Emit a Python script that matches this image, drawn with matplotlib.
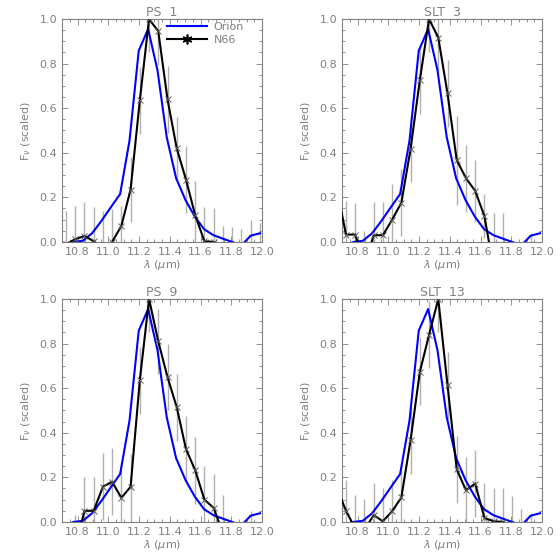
import numpy as np
import matplotlib.pyplot as plt
from matplotlib.lines import Line2D
from matplotlib.ticker import MultipleLocator

# N66 wavelength grid (micron)
wave = [10.665, 10.725, 10.785, 10.845, 10.905, 10.965, 11.025, 11.085,
        11.145, 11.205, 11.265, 11.325, 11.385, 11.445, 11.505, 11.565,
        11.625, 11.685, 11.745, 11.805, 11.865, 11.925, 11.985]

# scaled fluxes and errors per source
ps1 = [-0.10, -0.01, 0.012, 0.027, 0.003, -0.03, 0.0, 0.072, 0.235, 0.635, 1.0,
       0.945, 0.64, 0.42, 0.28, 0.12, 0.003, 0.0, -0.08, -0.085, -0.09, -0.05, -0.065]
ps1_err = [0.15, 0.15, 0.15, 0.15, 0.155, 0.17, 0.147, 0.09, 0.145, 0.15, 0.15,
           0.15, 0.15, 0.14, 0.15, 0.155, 0.152, 0.15, 0.15, 0.15, 0.15, 0.15, 0.15]

slt3 = [0.24, 0.033, 0.033, -0.10, 0.03, 0.03, 0.10, 0.176, 0.417, 0.726, 1.0,
        0.917, 0.666, 0.367, 0.286, 0.229, 0.116, -0.12, -0.03, -0.2, -0.2, -0.12, -0.2]
slt3_err = [0.15, 0.15, 0.14, 0.15, 0.15, 0.15, 0.16, 0.15, 0.15, 0.15, 0.15,
            0.15, 0.15, 0.2, 0.15, 0.14, 0.10, 0.25, 0.16, 0.15, 0.15, 0.16, 0.15]

ps9 = [-0.2, -0.2, -0.12, 0.05, 0.05, 0.158, 0.18, 0.108, 0.158, 0.636, 1.0,
       0.81, 0.65, 0.515, 0.327, 0.232, 0.10, 0.063, -0.05, -0.2, -0.2, -0.1, -0.2]
ps9_err = [0.15, 0.15, 0.15, 0.15, 0.15, 0.15, 0.15, 0.154, 0.146, 0.15, 0.15,
           0.145, 0.15, 0.15, 0.15, 0.15, 0.15, 0.15, 0.173, 0.15, 0.15, 0.15, 0.15]

slt13 = [0.153, 0.05, -0.03, -0.035, 0.03, 0.003, 0.048, 0.11, 0.367, 0.673, 0.839,
         1.0, 0.613, 0.236, 0.142, 0.172, 0.018, 0.003, 0.0, -0.04, -0.09, -0.11, -0.2]
slt13_err = [0.15, 0.14, 0.15, 0.14, 0.146, 0.15, 0.14, 0.146, 0.15, 0.15, 0.15,
             0.15, 0.15, 0.15, 0.15, 0.15, 0.158, 0.15, 0.154, 0.156, 0.146, 0.15, 0.15]

# Orion template
orion_wave = [10.713, 10.774, 10.834, 10.895, 10.956, 11.016, 11.077, 11.138,
              11.198, 11.259, 11.320, 11.380, 11.441, 11.502, 11.562, 11.623,
              11.684, 11.744, 11.805, 11.866, 11.926, 11.987]
orion = [-0.02, 0.0, 0.005, 0.039, 0.095, 0.155, 0.215, 0.455, 0.858, 0.955,
         0.77, 0.47, 0.286, 0.188, 0.114, 0.057, 0.03, 0.015, 0.0, -0.015, 0.028, 0.039]

titles = ["PS  1", "SLT  3", "PS  9", "SLT  13"]
fluxes = [ps1, slt3, ps9, slt13]
errors = [ps1_err, slt3_err, ps9_err, slt13_err]

grey = "#808080"
plt.rcParams['font.family'] = ['DejaVu Sans']

fig = plt.figure(figsize=(5.6, 5.6), dpi=100)
positions = [[0.111, 0.568, 0.357, 0.398], [0.611, 0.568, 0.357, 0.398],
             [0.111, 0.068, 0.357, 0.398], [0.611, 0.068, 0.357, 0.398]]

for i in range(4):
    ax = fig.add_axes(positions[i])
    f = np.array(fluxes[i])
    e = np.array(errors[i])
    ax.vlines(wave, f - e, f + e, color="#b0b0b0", lw=1.0, zorder=1)
    ax.plot(orion_wave, orion, color="#0000ff", lw=1.5, zorder=2)
    ax.plot(wave, f, color="black", lw=1.5, zorder=3)
    ax.plot(wave, f, ls="none", marker="x", ms=5, mew=0.7, color="#606060", zorder=4)

    ax.set_xlim(10.7, 12.0)
    ax.set_ylim(0, 1.0)
    ax.xaxis.set_minor_locator(MultipleLocator(0.05))
    ax.yaxis.set_minor_locator(MultipleLocator(0.05))
    ax.set_xticks([10.8, 11.0, 11.2, 11.4, 11.6, 11.8, 12.0])
    ax.set_xticklabels(["10.8", "11.0", "11.2", "11.4", "11.6", "11.8", "12.0"])
    ax.set_yticks([0, 0.2, 0.4, 0.6, 0.8, 1.0])
    ax.set_yticklabels(["0.0", "0.2", "0.4", "0.6", "0.8", "1.0"])
    ax.tick_params(which="both", direction="in", top=True, right=True,
                   colors=grey, labelsize=8, width=0.6)
    ax.tick_params(which="major", length=4)
    ax.tick_params(which="minor", length=2)
    for s in ax.spines.values():
        s.set_color(grey)
        s.set_linewidth(0.8)

    ax.set_title(titles[i], color=grey, fontsize=9, pad=2)
    ax.set_xlabel(r"$\lambda$ ($\mu$m)", color=grey, fontsize=8, labelpad=1)
    ax.set_ylabel(r"F$_\nu$ (scaled)", color=grey, fontsize=8, labelpad=5)

    if i == 0:
        handles = [Line2D([], [], color="#0000ff", lw=1.5),
                   Line2D([], [], color="black", lw=1.5, marker=(6, 2, 0), ms=7, mew=1.2)]
        ax.legend(handles, ["Orion", "N66"], loc="upper left", bbox_to_anchor=(0.49, 1.015),
                  frameon=False, fontsize=8, labelcolor=grey, handlelength=3.6,
                  handletextpad=0.6, labelspacing=0.2, borderaxespad=0.2)

fig.savefig("out.png", dpi=100)
